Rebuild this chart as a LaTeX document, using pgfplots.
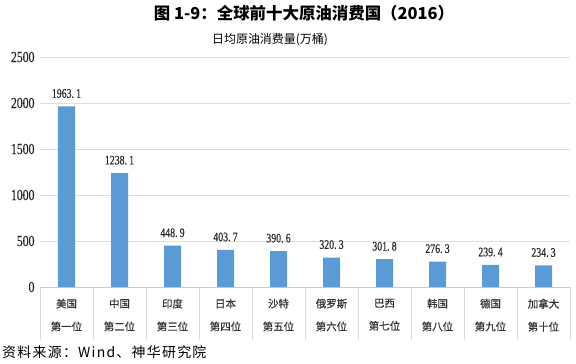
\documentclass[border=0pt]{standalone}
\usepackage{pgfplots}
\pgfplotsset{compat=1.18}
\usepackage{fontspec}
\setmainfont{Liberation Serif}
\newfontfamily\cjk{Noto Sans CJK SC}
\newfontfamily\cjkfb{Noto Sans CJK SC}[FakeBold=0.6]
\newfontfamily\cjksrc{Noto Sans CJK SC}[LetterSpace=9]
\newfontfamily\numfont{Liberation Serif}[FakeStretch=0.76, FakeBold=0.4]
\definecolor{barblue}{HTML}{5B9BD5}
\begin{document}
\begin{tikzpicture}
\useasboundingbox (0,0) rectangle (576bp,-364bp);
\begin{axis}[
  at={(40bp,-287bp)}, anchor=south west,
  scale only axis, width=530bp, height=230bp,
  ymin=0, ymax=2500, ytick={0,500,...,2500},
  xmin=-0.5, xmax=9.5,
  xtick={0,...,9},
  xticklabels={美国\\第一位,中国\\第二位,印度\\第三位,日本\\第四位,沙特\\第五位,俄罗斯\\第六位,巴西\\第七位,韩国\\第八位,德国\\第九位,加拿大\\第十位},
  xticklabel style={align=center, font=\cjkfb\fontsize{10.5}{23}\selectfont, text=black!80, yshift=-4bp},
  yticklabel style={font=\numfont\fontsize{15.5}{16}\selectfont, text=black!85, xshift=-2bp},
  /pgf/number format/assume math mode=true,
  /pgf/number format/1000 sep={},
  ymajorgrids, grid style={draw=gray!25, line width=0.6pt},
  axis x line*=bottom, axis y line*=left,
  x axis line style={draw=gray!40, line width=0.6pt, -},
  y axis line style={draw=none},
  xtick style={draw=none}, ytick style={draw=none},
  extra x ticks={-0.5,0.5,1.5,2.5,3.5,4.5,5.5,6.5,7.5,8.5,9.5},
  extra x tick labels={},
  extra x tick style={grid=none, tick align=outside, major tick length=53bp, xtick style={draw=gray!30, line width=0.6pt}},
  ybar, bar width=17bp,
  nodes near coords={\pgfmathprintnumber[fixed,fixed zerofill,precision=1,dec sep={.\,}]{\pgfplotspointmeta}},
  every node near coord/.append style={font=\numfont\fontsize{13}{14}\selectfont, text=black!85, yshift=5bp},
]
\addplot[fill=barblue, draw=none] coordinates {
(0,1963.1) (1,1238.1) (2,448.9) (3,403.7) (4,390.6)
(5,320.3) (6,301.8) (7,276.3) (8,239.4) (9,234.3)};
\end{axis}
\node at (304bp,-13bp) {\cjk\bfseries\fontsize{16.5}{18}\selectfont 图 1-9：全球前十大原油消费国（2016）};
\node at (270bp,-40bp) {\cjk\fontsize{12}{14}\selectfont 日均原油消费量(万桶)};
\node[anchor=west, inner sep=0pt] at (2bp,-352bp) {\cjksrc\fontsize{14}{16}\selectfont 资料来源：Wind、神华研究院};
\end{tikzpicture}
\end{document}
